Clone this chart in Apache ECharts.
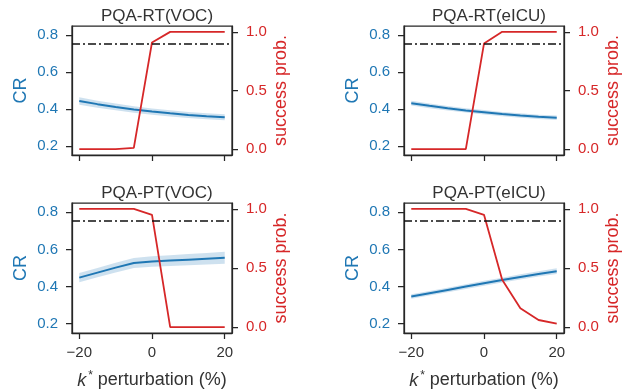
<!DOCTYPE html>
<html>
<head>
<meta charset="utf-8">
<script src="https://cdn.jsdelivr.net/npm/echarts@6/dist/echarts.min.js"></script>
<style>
  html, body { margin: 0; padding: 0; background: #fff; }
  #chart { width: 629px; height: 391px; }
</style>
</head>
<body>
<div id="chart"></div>
<script>
// k* perturbation (%) on the x axis, shared by all panels
const perturbation = [-20, -15, -10, -5, 0, 5, 10, 15, 20];
const panelTitles = ['PQA-RT(VOC)', 'PQA-RT(eICU)', 'PQA-PT(VOC)', 'PQA-PT(eICU)'];

// CR mean and half width of the shaded band
const rtVocCR = [0.443, 0.426, 0.411, 0.397, 0.386, 0.376, 0.367, 0.360, 0.355];
const rtVocBand = [0.020, 0.019, 0.018, 0.018, 0.017, 0.017, 0.016, 0.016, 0.016];
const rtEicuCR = [0.431, 0.417, 0.404, 0.392, 0.382, 0.372, 0.364, 0.357, 0.352];
const rtEicuBand = [0.013, 0.013, 0.012, 0.012, 0.012, 0.012, 0.012, 0.012, 0.012];
const ptVocCR = [0.448, 0.475, 0.502, 0.527, 0.535, 0.540, 0.545, 0.550, 0.555];
const ptVocBand = [0.025, 0.025, 0.026, 0.027, 0.028, 0.029, 0.030, 0.031, 0.032];
const ptEicuCR = [0.346, 0.364, 0.382, 0.400, 0.418, 0.435, 0.452, 0.468, 0.483];
const ptEicuBand = [0.012, 0.012, 0.012, 0.013, 0.013, 0.013, 0.014, 0.014, 0.015];

// success probability (right axis)
const rtVocProb = [0, 0, 0, 0.01, 0.91, 1, 1, 1, 1];
const rtEicuProb = [0, 0, 0, 0, 0.90, 1, 1, 1, 1];
const ptVocProb = [1, 1, 1, 1, 0.95, 0, 0, 0, 0];
const ptEicuProb = [1, 1, 1, 1, 0.95, 0.40, 0.16, 0.06, 0.03];

const successThreshold = 0.9;
const crTicks = [0.2, 0.4, 0.6, 0.8];
const probTicks = [0, 0.5, 1.0];
const xTicks = [-20, 0, 20];

const panels = [
  { cr: rtVocCR, band: rtVocBand, prob: rtVocProb },
  { cr: rtEicuCR, band: rtEicuBand, prob: rtEicuProb },
  { cr: ptVocCR, band: ptVocBand, prob: ptVocProb },
  { cr: ptEicuCR, band: ptEicuBand, prob: ptEicuProb },
];

const BLUE = '#1f77b4';
const RED = '#d62728';
const SPINE = '#262626';
const FONT = 'Liberation Sans';

const colLeft = [72, 404];
const rowTop = [26, 203];
const rowHeight = [129, 130];
const PLOT_W = 160;

const grid = [];
const xAxis = [];
const yAxis = [];
const series = [];
const title = [];

const spine = { show: true, onZero: false, lineStyle: { color: SPINE, width: 1.25 } };
const tick = (values) => ({ show: true, length: 6, customValues: values, lineStyle: { color: SPINE, width: 1.25 } });

panels.forEach((p, i) => {
  const col = i % 2;
  const row = Math.floor(i / 2);
  const left = colLeft[col];
  const top = rowTop[row];

  grid.push({
    left, top, width: PLOT_W, height: rowHeight[row],
    show: true, borderColor: SPINE, borderWidth: 1.25, backgroundColor: 'transparent',
  });

  title.push({
    text: panelTitles[i],
    left: left + PLOT_W / 2,
    top: top - 23,
    textAlign: 'center',
    textStyle: { fontFamily: FONT, fontSize: 17, fontWeight: 'normal', color: '#333' },
  });

  xAxis.push({
    type: 'value', gridIndex: i, min: -22, max: 22,
    axisLine: spine,
    axisTick: tick(xTicks),
    splitLine: { show: false },
    axisLabel: {
      show: row === 1, customValues: xTicks, margin: 12,
      fontFamily: FONT, fontSize: 15, color: '#333',
      formatter: (v) => (v < 0 ? '\u2212' + Math.abs(v) : String(v)),
    },
    name: row === 1 ? '{k|k}{s|*} perturbation (%)' : '',
    nameLocation: 'middle',
    nameGap: 37,
    nameTextStyle: {
      fontFamily: FONT, fontSize: 18, color: '#333',
      rich: {
        k: { fontFamily: FONT, fontSize: 18, fontStyle: 'italic', color: '#333' },
        s: { fontFamily: FONT, fontSize: 12, color: '#333', padding: [0, 0, 9, 2] },
      },
    },
  });

  yAxis.push({
    type: 'value', gridIndex: i, min: 0.15, max: 0.85, position: 'left',
    axisLine: spine,
    axisTick: tick(crTicks),
    splitLine: { show: false },
    axisLabel: {
      customValues: crTicks, margin: 14,
      fontFamily: FONT, fontSize: 15, color: BLUE,
      formatter: (v) => v.toFixed(1),
    },
    name: 'CR', nameLocation: 'middle', nameGap: 42, nameRotate: 90,
    nameTextStyle: { fontFamily: FONT, fontSize: 18, color: BLUE },
  });

  yAxis.push({
    type: 'value', gridIndex: i, min: -0.05, max: 1.05, position: 'right',
    axisLine: spine,
    axisTick: tick(probTicks),
    splitLine: { show: false },
    axisLabel: {
      customValues: probTicks, margin: 14,
      fontFamily: FONT, fontSize: 15, color: RED,
      formatter: (v) => v.toFixed(1),
    },
    name: 'success prob.', nameLocation: 'middle', nameGap: 40, nameRotate: 90,
    nameTextStyle: { fontFamily: FONT, fontSize: 18, color: RED },
  });

  const leftY = 2 * i;
  const rightY = 2 * i + 1;

  // shaded band around the CR mean, drawn as one polygon through the axis scales
  series.push({
    type: 'custom', xAxisIndex: i, yAxisIndex: leftY, silent: true, z: 1,
    data: [[0, p.cr[4]]],
    renderItem: (params, api) => {
      const upper = perturbation.map((x, k) => api.coord([x, p.cr[k] + p.band[k]]));
      const lower = perturbation.map((x, k) => api.coord([x, p.cr[k] - p.band[k]])).reverse();
      return {
        type: 'polygon',
        shape: { points: upper.concat(lower) },
        style: { fill: 'rgba(31,119,180,0.22)' },
      };
    },
  });
  series.push({
    type: 'line', xAxisIndex: i, yAxisIndex: leftY,
    data: perturbation.map((x, k) => [x, p.cr[k]]),
    showSymbol: false, z: 2,
    lineStyle: { color: BLUE, width: 2 }, itemStyle: { color: BLUE },
  });
  series.push({
    type: 'line', xAxisIndex: i, yAxisIndex: rightY,
    data: perturbation.map((x, k) => [x, p.prob[k]]),
    showSymbol: false, z: 3,
    lineStyle: { color: RED, width: 1.8 }, itemStyle: { color: RED },
    markLine: {
      silent: true, symbol: 'none', label: { show: false },
      lineStyle: { color: '#111', width: 1.6, type: [8, 3, 2, 3] },
      data: [{ yAxis: successThreshold }],
    },
  });
});

const chart = echarts.init(document.getElementById('chart'));
chart.setOption({
  animation: false,
  backgroundColor: '#fff',
  title, grid, xAxis, yAxis, series,
});
</script>
</body>
</html>
